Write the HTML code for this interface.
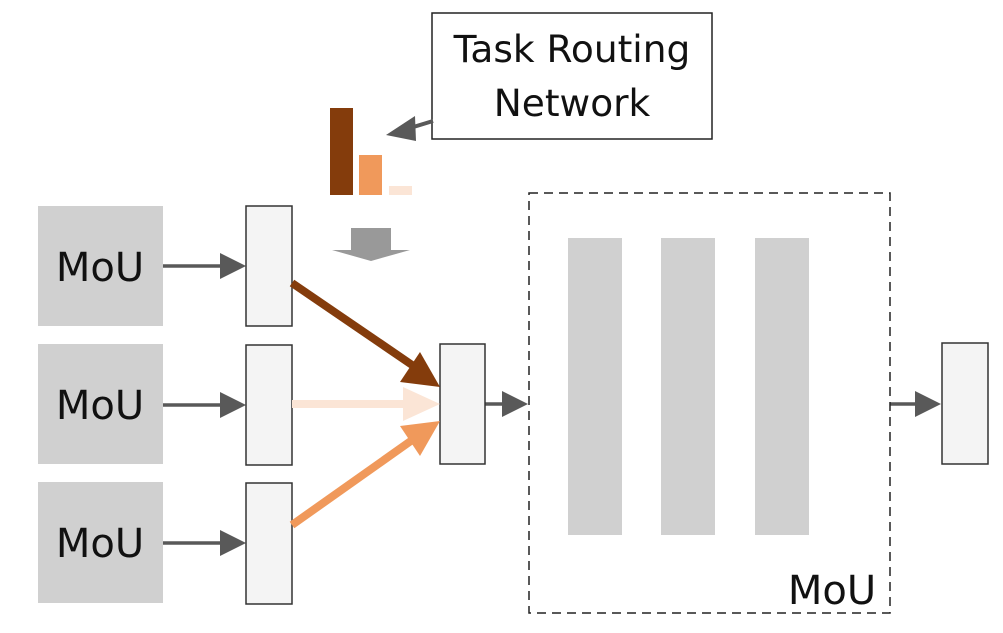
<!DOCTYPE html>
<html><head><style>
body{margin:0;background:#fff}
svg{display:block}
text{font-family:"DejaVu Sans","Liberation Sans",sans-serif;fill:#111}
</style></head><body>
<svg width="1003" height="633" viewBox="0 0 1003 633">
<rect x="432" y="13" width="280" height="126" fill="#fff" stroke="#222" stroke-width="1.5"/>
<text x="572" y="62" font-size="37.5" text-anchor="middle">Task Routing</text>
<text x="572" y="116" font-size="37.5" text-anchor="middle">Network</text>
<line x1="433" y1="121" x2="410" y2="128" stroke="#595959" stroke-width="4"/>
<path d="M386,135 L415,116 L416,141z" fill="#595959"/>
<rect x="330" y="108" width="23" height="87" fill="#843c0c"/>
<rect x="359" y="155" width="23" height="40" fill="#f0995b"/>
<rect x="389" y="186" width="23" height="9" fill="#fbe5d6"/>
<path d="M351,228H391V250H410L371,261L332,250H351z" fill="#999"/>
<g fill="#d0d0d0">
<rect x="38" y="206" width="125" height="120"/>
<rect x="38" y="344" width="125" height="120"/>
<rect x="38" y="482" width="125" height="121"/>
</g>
<g font-size="40"><text x="100" y="281" text-anchor="middle">MoU</text><text x="100" y="419" text-anchor="middle">MoU</text><text x="100" y="557" text-anchor="middle">MoU</text></g>
<g stroke="#595959" stroke-width="3.5">
<line x1="163" y1="266" x2="220" y2="266"/><line x1="163" y1="405" x2="220" y2="405"/><line x1="163" y1="543" x2="220" y2="543"/>
<line x1="485" y1="404" x2="502" y2="404"/><line x1="890" y1="404" x2="915" y2="404"/>
</g>
<g fill="#595959">
<path d="M220,253L246,266L220,279z"/><path d="M220,392L246,405L220,418z"/><path d="M220,530L246,543L220,556z"/>
<path d="M502,391L528,404L502,417z"/><path d="M915,391L941,404L915,417z"/>
</g>
<g fill="#f4f4f4" stroke="#333" stroke-width="1.5">
<rect x="246" y="206" width="46" height="120"/><rect x="246" y="345" width="46" height="120"/><rect x="246" y="483" width="46" height="121"/>
<rect x="440" y="344" width="45" height="120"/><rect x="942" y="343" width="46" height="121"/>
</g>
<line x1="292" y1="283" x2="415" y2="367" stroke="#843c0c" stroke-width="8"/>
<path d="M440,387L400,382L420,352z" fill="#843c0c"/>
<line x1="292" y1="404" x2="405" y2="404" stroke="#fbe5d6" stroke-width="8"/>
<path d="M440,404L403,387L403,421z" fill="#fbe5d6"/>
<line x1="292" y1="525" x2="415" y2="438" stroke="#f0995b" stroke-width="8"/>
<path d="M440,421L400,426L420,456z" fill="#f0995b"/>
<rect x="529" y="193" width="361" height="420" fill="none" stroke="#222" stroke-width="1.5" stroke-dasharray="9,6"/>
<g fill="#d0d0d0"><rect x="568" y="238" width="54" height="297"/><rect x="661" y="238" width="54" height="297"/><rect x="755" y="238" width="54" height="297"/></g>
<text x="832" y="604" font-size="40" text-anchor="middle">MoU</text>
</svg>
</body></html>
